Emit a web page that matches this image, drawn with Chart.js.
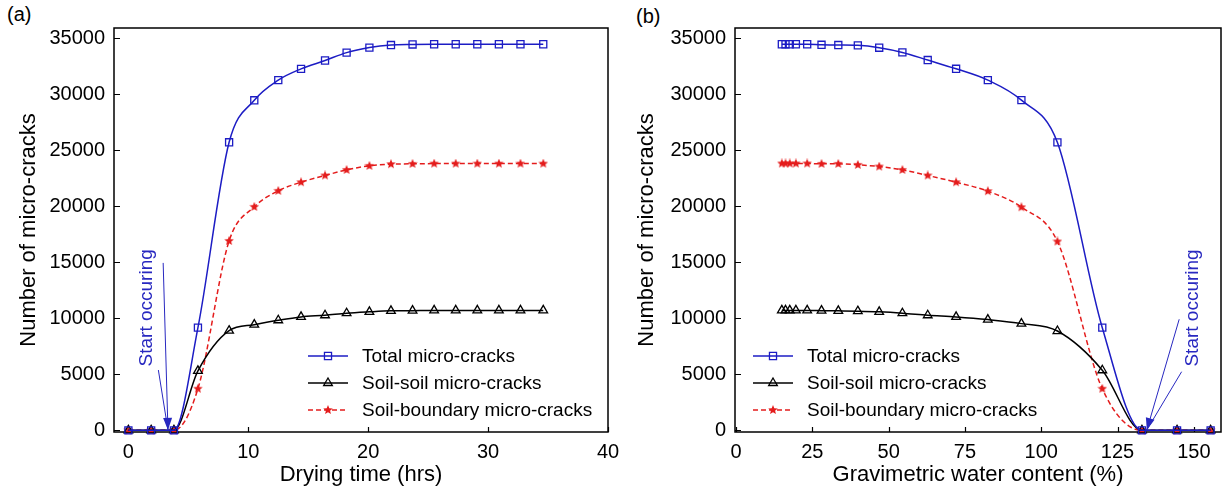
<!DOCTYPE html>
<html>
<head>
<meta charset="utf-8">
<script src="https://cdn.jsdelivr.net/npm/chart.js@4.4.1/dist/chart.umd.min.js"></script>
<style>
  body { margin: 0; background: #fff; width: 1229px; height: 494px; position: relative; overflow: hidden;
         font-family: "Liberation Sans", Arial, sans-serif; }
  .panel { position: absolute; top: 0; height: 494px; }
  #panel-a { left: 0; width: 640px; }
  #panel-b { left: 615px; width: 614px; }
  .tag { position: absolute; font-size: 20px; line-height: 20px; color: #000; }
</style>
</head>
<body>
<div class="tag" style="left:7px;top:4px">(a)</div>
<div class="tag" style="left:636px;top:6px">(b)</div>
<div class="panel" id="panel-a"><canvas id="chart-a" width="640" height="494"></canvas></div>
<div class="panel" id="panel-b"><canvas id="chart-b" width="614" height="494"></canvas></div>
<script>
const timeTicks = [0, 10, 20, 30, 40];
const waterTicks = [0, 25, 50, 75, 100, 125, 150];
const countTicks = [0, 5000, 10000, 15000, 20000, 25000, 30000, 35000];

const seriesNames = ['Total micro-cracks', 'Soil-soil micro-cracks', 'Soil-boundary micro-cracks'];

// (a) crack counts over drying time (hrs)
const dryingTime = [0, 1.9, 3.8, 5.8, 8.4, 10.5, 12.5, 14.4, 16.4, 18.2, 20.1, 21.9, 23.7, 25.5, 27.3, 29.1, 30.9, 32.7, 34.6];
const totalVsTime = [0, 0, 0, 9160, 25700, 29450, 31250, 32250, 33000, 33700, 34150, 34380, 34430, 34450, 34450, 34450, 34450, 34450, 34450];
const soilSoilVsTime = [0, 0, 0, 5300, 8890, 9430, 9820, 10120, 10270, 10450, 10570, 10660, 10680, 10700, 10700, 10700, 10700, 10700, 10700];
const soilBoundaryVsTime = [0, 0, 0, 3710, 16900, 19940, 21370, 22140, 22740, 23240, 23600, 23750, 23780, 23800, 23800, 23800, 23800, 23800, 23800];

// (b) crack counts against gravimetric water content (%)
const waterContent = [15.0, 16.2, 17.6, 19.6, 23.3, 28.0, 33.5, 39.9, 46.9, 54.5, 62.8, 72.1, 82.5, 93.5, 105.3, 120.0, 133.0, 144.5, 155.5];
const totalVsWater = [34450, 34450, 34450, 34450, 34450, 34400, 34380, 34350, 34140, 33720, 33040, 32260, 31250, 29460, 25690, 9160, 0, 0, 0];
const soilSoilVsWater = [10700, 10700, 10700, 10700, 10700, 10680, 10660, 10630, 10570, 10450, 10270, 10120, 9880, 9520, 8860, 5360, 0, 0, 0];
const soilBoundaryVsWater = [23810, 23810, 23810, 23810, 23810, 23780, 23780, 23690, 23540, 23240, 22740, 22140, 21340, 19910, 16850, 3710, 0, 0, 0];

const BLUE = '#1c1cc4';
const RED = '#e41c1c';
const NOTE_BLUE = '#2828c0';

Chart.defaults.font.family = '"Liberation Sans", Arial, sans-serif';
Chart.defaults.color = '#000';

function starImage(size, color) {
  const c = document.createElement('canvas');
  c.width = c.height = size;
  const g = c.getContext('2d');
  g.fillStyle = color;
  g.beginPath();
  for (let i = 0; i < 10; i++) {
    const r = i % 2 ? size * 0.22 : size / 2;
    const a = -Math.PI / 2 + i * Math.PI / 5;
    g.lineTo(size / 2 + r * Math.cos(a), size / 2 + r * Math.sin(a));
  }
  g.closePath();
  g.fill();
  return c;
}
const star = starImage(10, RED);

const pts = (xs, ys) => xs.map((x, i) => ({x: x, y: ys[i]}));

function makeDatasets(xs, total, soil, boundary) {
  const common = {cubicInterpolationMode: 'monotone', clip: false, borderWidth: 1.5, pointBorderWidth: 1.3,
                  pointBackgroundColor: 'rgba(0,0,0,0)', pointHoverRadius: 5};
  return [
    Object.assign({}, common, {label: seriesNames[0], data: pts(xs, total), borderColor: BLUE,
      pointBorderColor: BLUE, pointStyle: 'rect', pointRadius: 5}),
    Object.assign({}, common, {label: seriesNames[1], data: pts(xs, soil), borderColor: '#000',
      pointBorderColor: '#000', pointStyle: 'triangle', pointRadius: 5}),
    Object.assign({}, common, {label: seriesNames[2], data: pts(xs, boundary), borderColor: RED,
      borderDash: [5, 3], pointStyle: star, pointRadius: 5})
  ];
}

// frame, inward ticks, in-plot legend and the "Start occuring" arrows
const panelDecor = {
  id: 'panelDecor',
  beforeDatasetsDraw(chart) {
    const {ctx, chartArea: a, scales: {x, y}} = chart;
    ctx.save();
    ctx.strokeStyle = '#000';
    ctx.lineWidth = 1.5;
    ctx.strokeRect(a.left, a.top, a.right - a.left, a.bottom - a.top);
    ctx.lineWidth = 1.2;
    ctx.beginPath();
    x.ticks.forEach(t => {
      const px = Math.round(x.getPixelForValue(t.value)) + 0.5;
      ctx.moveTo(px, a.bottom); ctx.lineTo(px, a.bottom - 5);
    });
    y.ticks.forEach(t => {
      const py = Math.round(y.getPixelForValue(t.value)) + 0.5;
      ctx.moveTo(a.left, py); ctx.lineTo(a.left + 6, py);
    });
    ctx.stroke();
    ctx.restore();
  },
  afterDatasetsDraw(chart, args, opts) {
    const {ctx, chartArea: a, scales: {x, y}} = chart;
    ctx.save();
    // legend
    chart.data.datasets.forEach((ds, i) => {
      const lx = a.left + opts.legendX;
      const ly = a.top + opts.legendY + i * 27;
      ctx.strokeStyle = ds.borderColor;
      ctx.lineWidth = 1.5;
      ctx.setLineDash(ds.borderDash || []);
      ctx.beginPath();
      ctx.moveTo(lx, ly); ctx.lineTo(lx + 40, ly);
      ctx.stroke();
      ctx.setLineDash([]);
      ctx.strokeStyle = ds.pointBorderColor || ds.borderColor;
      ctx.fillStyle = 'rgba(0,0,0,0)';
      ctx.lineWidth = 1.3;
      Chart.helpers.drawPoint(ctx, {pointStyle: ds.pointStyle, radius: ds.pointRadius, rotation: 0, borderWidth: 1.3}, lx + 20, ly);
      ctx.fillStyle = '#000';
      ctx.font = '19px "Liberation Sans", Arial, sans-serif';
      ctx.textBaseline = 'middle';
      ctx.textAlign = 'left';
      ctx.fillText(ds.label, lx + 54, ly + 1);
    });
    // annotation
    const n = opts.note;
    const tx = x.getPixelForValue(n.tip.x), ty = y.getPixelForValue(n.tip.y);
    ctx.strokeStyle = NOTE_BLUE;
    ctx.fillStyle = NOTE_BLUE;
    ctx.lineWidth = 1;
    n.tails.forEach(p => {
      ctx.beginPath();
      ctx.moveTo(x.getPixelForValue(p.x), y.getPixelForValue(p.y));
      ctx.lineTo(tx, ty);
      ctx.stroke();
    });
    const sx = x.getPixelForValue(n.tails[0].x), sy = y.getPixelForValue(n.tails[0].y);
    const ang = Math.atan2(ty - sy, tx - sx);
    ctx.beginPath();
    ctx.moveTo(tx, ty);
    ctx.lineTo(tx - 12 * Math.cos(ang) + 4.5 * Math.sin(ang), ty - 12 * Math.sin(ang) - 4.5 * Math.cos(ang));
    ctx.lineTo(tx - 12 * Math.cos(ang) - 4.5 * Math.sin(ang), ty - 12 * Math.sin(ang) + 4.5 * Math.cos(ang));
    ctx.closePath();
    ctx.fill();
    ctx.translate(x.getPixelForValue(n.textAt.x), y.getPixelForValue(n.textAt.y));
    ctx.rotate(-Math.PI / 2);
    ctx.font = '19px "Liberation Sans", Arial, sans-serif';
    ctx.textAlign = 'center';
    ctx.textBaseline = 'middle';
    ctx.fillText(n.text, 0, 0);
    ctx.restore();
  }
};

function makePanel(canvasId, cfg) {
  return new Chart(document.getElementById(canvasId), {
    type: 'line',
    data: {datasets: cfg.datasets},
    options: {
      responsive: false,
      animation: false,
      layout: {padding: {top: 28, right: cfg.padRight, bottom: 0, left: 0}},
      plugins: {
        legend: {display: false},
        tooltip: {enabled: false},
        panelDecor: {legendX: cfg.legendX, legendY: 328, note: cfg.note}
      },
      scales: {
        x: {
          type: 'linear', min: cfg.xMin, max: cfg.xMax,
          afterBuildTicks: s => { s.ticks = cfg.xTicks.map(v => ({value: v})); },
          afterFit: s => { s.height = 62; s.paddingLeft = 0; s.paddingRight = 0; },
          grid: {display: false, drawTicks: false},
          border: {display: false},
          ticks: {font: {size: 20}, padding: 8, maxRotation: 0, autoSkip: false, callback: v => String(v)},
          title: {display: true, text: cfg.xTitle, font: {size: 22}, padding: {top: 0, bottom: 6}}
        },
        y: {
          type: 'linear', min: -150, max: 35900,
          afterBuildTicks: s => { s.ticks = countTicks.map(v => ({value: v})); },
          afterFit: s => { s.width = cfg.yWidth; s.paddingTop = 0; s.paddingBottom = 0; },
          grid: {display: false, drawTicks: false},
          border: {display: false},
          ticks: {font: {size: 20}, padding: 9, autoSkip: false, callback: v => String(v)},
          title: {display: true, text: 'Number of micro-cracks', font: {size: 22}, padding: {top: cfg.yTitlePad, bottom: 0}}
        }
      }
    },
    plugins: [panelDecor]
  });
}

makePanel('chart-a', {
  datasets: makeDatasets(dryingTime, totalVsTime, soilSoilVsTime, soilBoundaryVsTime),
  xMin: -1.2, xMax: 40, xTicks: timeTicks, xTitle: 'Drying time (hrs)',
  yWidth: 114, yTitlePad: 16, padRight: 32, legendX: 194,
  note: {text: 'Start occuring', textAt: {x: 1.55, y: 10930}, tip: {x: 3.3, y: 30},
         tails: [{x: 2.9, y: 14940}, {x: 2.5, y: 5380}]}
});

makePanel('chart-b', {
  datasets: makeDatasets(waterContent, totalVsWater, soilSoilVsWater, soilBoundaryVsWater),
  xMin: -0.35, xMax: 158.9, xTicks: waterTicks, xTitle: 'Gravimetric water content (%)',
  yWidth: 120, yTitlePad: 19, padRight: 8, legendX: 18,
  note: {text: 'Start occuring', textAt: {x: 149.5, y: 10920}, tip: {x: 134.6, y: 30},
         tails: [{x: 145.2, y: 9910}, {x: 146.0, y: 5230}]}
});
</script>
</body>
</html>
